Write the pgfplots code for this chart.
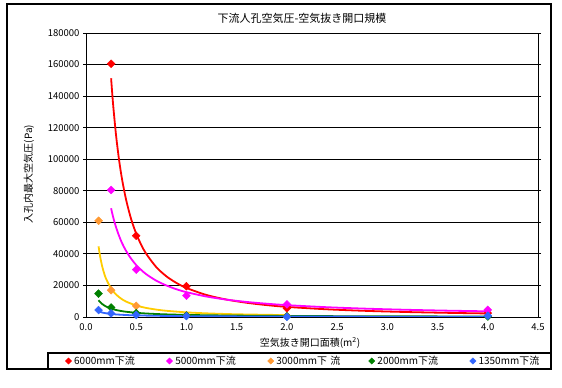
\documentclass[border=0pt]{standalone}
\usepackage{fontspec}
\setmainfont{Noto Sans CJK JP}
\usepackage{pgfplots}
\pgfplotsset{compat=1.18}
\definecolor{cRed}{HTML}{FF0000}
\definecolor{cMag}{HTML}{FF00FF}
\definecolor{cOrg}{HTML}{FF9933}
\definecolor{cYel}{HTML}{FFCC00}
\definecolor{cGrn}{HTML}{008000}
\definecolor{cBlu}{HTML}{3366FF}
\pgfplotsset{
  mk/.style={only marks, mark=square*, mark size=2.8bp, mark options={rotate=45, solid}, color=#1,
    legend image code/.code={\path (-3.5bp,0bp) (3.5bp,0bp); \draw[##1, mark size=2.2bp] plot coordinates {(0bp,0bp)};}},
  cv/.style={forget plot, smooth, color=#1, line width=1.8bp, mark=none},
}
\begin{document}
\begin{tikzpicture}
\useasboundingbox (0bp,0bp) rectangle (562bp,388bp);
\draw[line width=1.2bp] (7bp,19bp) rectangle (551bp,384bp);
\begin{axis}[
  at={(86bp,71bp)}, anchor=south west,
  scale only axis, width=452bp, height=284bp,
  xmin=0, xmax=4.5, ymin=0, ymax=180000,
  xtick={0,0.5,1,1.5,2,2.5,3,3.5,4,4.5},
  ytick={0,20000,40000,60000,80000,100000,120000,140000,160000,180000},
  scaled x ticks=false, scaled y ticks=false,
  /pgf/number format/assume math mode=true,
  x tick label style={/pgf/number format/.cd, fixed, fixed zerofill, precision=1, /tikz/.cd},
  y tick label style={/pgf/number format/.cd, fixed, set thousands separator={}, /tikz/.cd},
  tick label style={font=\fontsize{9.5bp}{11bp}\selectfont},
  axis line style={line width=0.9bp},
  ymajorgrids, grid style={black, line width=0.8bp},
  tick align=outside, major tick length=3bp,
  xtick style={draw=none}, ytick style={black, line width=0.8bp},
  legend columns=5,
  legend style={draw=none, fill=none, at={(axis description cs:-0.0540,-0.1549)}, anchor=west,
    column sep=2bp, nodes={inner sep=0pt, text width=89.7bp, font=\fontsize{10bp}{12bp}\selectfont}},
  legend cell align=left,
]
% trendlines
\addplot[cv=cRed] coordinates {(0.25,151300)(0.27,134600)(0.3,114700)(0.33,99200)(0.36,86900)(0.4,74100)(0.45,61900)(0.5,52800)(0.55,45700)(0.6,40000)(0.7,31600)(0.8,25800)(0.9,21600)(1.0,18400)(1.2,13950)(1.4,11040)(1.6,9010)(1.8,7530)(2.0,6410)(2.4,4870)(2.8,3850)(3.2,3140)(3.6,2630)(4.0,2240)};
\addplot[cv=cMag] coordinates {(0.25,68900)(0.27,63400)(0.3,56700)(0.33,51300)(0.36,46700)(0.4,41800)(0.45,36900)(0.5,32900)(0.55,29800)(0.6,27100)(0.7,23000)(0.8,20000)(0.9,17600)(1.0,15740)(1.2,12970)(1.4,11000)(1.6,9540)(1.8,8420)(2.0,7520)(2.4,6200)(2.8,5260)(3.2,4560)(3.6,4020)(4.0,3600)};
\addplot[cv=cYel] coordinates {(0.125,44800)(0.14,38600)(0.16,32400)(0.18,27800)(0.2,24200)(0.25,18070)(0.3,14230)(0.35,11630)(0.4,9760)(0.5,7290)(0.6,5740)(0.7,4690)(0.8,3940)(1.0,2940)(1.2,2320)(1.5,1730)(2.0,1190)};
\addplot[cv=cGrn] coordinates {(0.125,10640)(0.14,9500)(0.16,8310)(0.18,7390)(0.2,6650)(0.25,5320)(0.3,4430)(0.35,3800)(0.4,3325)(0.5,2660)(0.6,2220)(0.7,1900)(0.8,1660)(1.0,1330)(1.2,1110)(1.5,890)(2.0,665)(2.5,530)(3.0,443)(3.5,380)(4.0,333)};
\addplot[cv=cBlu] coordinates {(0.125,3580)(0.14,3230)(0.16,2860)(0.18,2570)(0.2,2340)(0.25,1920)(0.3,1630)(0.4,1250)(0.5,1030)(0.7,760)(1.0,550)(1.5,380)(2.0,295)(3.0,205)(4.0,158)};
% data points
\addplot[mk=cRed] coordinates {(0.25,160500)(0.5,51500)(1.0,19500)(2.0,5500)(4.0,2500)};
\addlegendentry{6000mm下流}
\addplot[mk=cMag] coordinates {(0.25,80500)(0.5,30000)(1.0,13500)(2.0,8000)(4.0,4500)};
\addlegendentry{5000mm下流}
\addplot[mk=cOrg] coordinates {(0.125,61000)(0.25,17000)(0.5,7000)(1.0,1000)(2.0,600)};
\addlegendentry{3000mm下 流}
\addplot[mk=cGrn] coordinates {(0.125,14800)(0.25,6000)(0.5,2500)(1.0,900)(2.0,400)(4.0,300)};
\addlegendentry{2000mm下流}
\addplot[mk=cBlu] coordinates {(0.125,4400)(0.25,2300)(0.5,1300)(1.0,600)(2.0,100)(4.0,800)};
\addlegendentry{1350mm下流}
\end{axis}
\node at (302bp,370bp) {\fontsize{11bp}{13bp}\selectfont 下流人孔空気圧-空気抜き開口規模};
\node[rotate=90] at (29bp,214bp) {\fontsize{10bp}{12bp}\selectfont 入孔内最大空気圧(Pa)};
\node at (310bp,45bp) {\fontsize{10bp}{12bp}\selectfont 空気抜き開口面積(m\textsuperscript{2})};
\draw[line width=1.2bp] (48bp,19bp) rectangle (551bp,35bp);
\end{tikzpicture}
\end{document}
